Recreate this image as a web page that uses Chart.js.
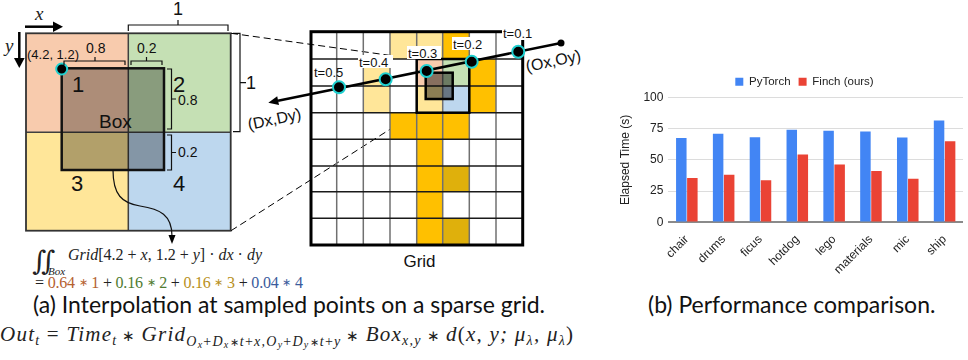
<!DOCTYPE html>
<html>
<head>
    <title>Interpolation and performance</title>
    <script src="https://cdn.jsdelivr.net/npm/chart.js"></script>
    <style>
        body { margin: 0; width: 968px; height: 360px; background: #fff; position: relative; overflow: hidden; }
        #fig { position: absolute; left: 0; top: 0; }
        #chartBox { position: absolute; left: 618px; top: 68px; width: 373px; height: 211px; }
        .lab { font-family: "Liberation Sans", Arial, sans-serif; fill: #111; }
        .math { font-family: "Liberation Serif", serif; fill: #222; white-space: pre; }
        .cap { font-family: Lato, "Noto Sans", sans-serif; fill: #111; white-space: pre; }
    </style>
</head>
<body>
<svg id="fig" width="968" height="360">
    <!-- left: box over four cells -->
    <rect x="26" y="33.3" width="102.3" height="99" fill="#F8CBAD"/>
    <rect x="128.3" y="33.3" width="102.4" height="99" fill="#C5E0B4"/>
    <rect x="26" y="132.3" width="102.3" height="98.4" fill="#FFE699"/>
    <rect x="128.3" y="132.3" width="102.4" height="98.4" fill="#BDD7EE"/>
    <path d="M128.3 33.3 V230.7 M26 132.3 H230.7" stroke="#404040" stroke-width="1.5" fill="none"/>
    <rect x="26" y="33.3" width="204.7" height="197.4" stroke="#333" stroke-width="1.8" fill="none"/>
    <rect x="61.7" y="68.3" width="102.3" height="101.7" fill="rgba(0,0,0,0.3)" stroke="#111" stroke-width="2.5"/>
    <text class="lab" x="72" y="92" font-size="22">1</text>
    <text class="lab" x="173" y="92" font-size="22">2</text>
    <text class="lab" x="71" y="191" font-size="22">3</text>
    <text class="lab" x="173" y="191" font-size="22">4</text>
    <text class="lab" x="99" y="128" font-size="19">Box</text>
    <circle cx="61.7" cy="69" r="5.5" fill="#000" stroke="#1fd0d0" stroke-width="2"/>
    <text class="lab" x="27" y="59" font-size="13">(4.2, 1.2)</text>

    <!-- axes arrows -->
    <text class="math" x="35" y="20" font-size="19" font-style="italic">x</text>
    <line x1="25" y1="26.7" x2="55" y2="26.7" stroke="#000" stroke-width="2.5"/>
    <polygon points="53,21.5 63,26.7 53,32" fill="#000"/>
    <text class="math" x="5" y="52" font-size="19" font-style="italic">y</text>
    <line x1="19.3" y1="32" x2="19.3" y2="60" stroke="#000" stroke-width="2.5"/>
    <polygon points="14,58 24.6,58 19.3,68" fill="#000"/>

    <!-- braces -->
    <g stroke="#111" stroke-width="1.2" fill="none">
        <path d="M64 65 V61 H125 V65 M95 61 V57"/>
        <path d="M131 65 V61 H162 V65 M146.5 61 V57"/>
        <path d="M128.3 31 V25 H228 V31 M178 25 V20"/>
        <path d="M233 33.3 H240 V131.7 H233 M240 82.7 H246"/>
        <path d="M167 69 H171.5 V129 H167 M171.5 99 H176"/>
        <path d="M167 135 H171.5 V170 H167 M171.5 152.5 H176"/>
    </g>
    <text class="lab" x="86" y="53" font-size="14">0.8</text>
    <text class="lab" x="137" y="53" font-size="14">0.2</text>
    <text class="lab" x="173" y="15" font-size="18">1</text>
    <text class="lab" x="246" y="89" font-size="18">1</text>
    <text class="lab" x="178" y="105" font-size="14">0.8</text>
    <text class="lab" x="178" y="157" font-size="14">0.2</text>

    <!-- curved arrow to the integral -->
    <path d="M113 170 C113 195, 122 203, 140 206 C160 209, 172 215, 172 236" stroke="#111" stroke-width="1.2" fill="none"/>
    <polygon points="168.5,235 175.5,235 172,244" fill="#000"/>

    <!-- zoom lines -->
    <path d="M231 33.3 L416 59 M231 230.7 L416 112.7" stroke="#000" stroke-width="1" stroke-dasharray="7 4" fill="none"/>

    <!-- sparse grid -->
    <g id="cells"></g>
    <rect x="416.7" y="59" width="26" height="26.9" fill="#F8CBAD"/>
    <rect x="442.7" y="59" width="26.6" height="26.9" fill="#C5E0B4"/>
    <rect x="416.7" y="85.9" width="26" height="26.8" fill="#FFE699"/>
    <rect x="442.7" y="85.9" width="26.6" height="26.8" fill="#BDD7EE"/>
    <g id="gridLines"></g>
    <rect x="311" y="31.7" width="211.7" height="213.3" stroke="#000" stroke-width="3" fill="none"/>
    <rect x="416.7" y="59" width="52.6" height="53.7" stroke="#000" stroke-width="2.5" fill="none"/>
    <rect x="425.7" y="72.7" width="27" height="26.3" fill="rgba(0,0,0,0.45)" stroke="#000" stroke-width="2.5"/>

    <!-- ray -->
    <line x1="561" y1="43" x2="278" y2="100.7" stroke="#000" stroke-width="2.5"/>
    <polygon points="268.3,102.7 279,105.1 277.2,96.3" fill="#000"/>
    <circle cx="561" cy="43" r="3.5" fill="#000"/>
    <g fill="#fff">
        <rect x="502" y="27" width="32" height="13"/>
        <rect x="452" y="37" width="34" height="13"/>
        <rect x="407" y="46" width="34" height="13"/>
        <rect x="358" y="55" width="35" height="13"/>
    </g>
    <text class="lab" x="503" y="38.3" font-size="13">t=0.1</text>
    <text class="lab" x="453" y="49" font-size="13">t=0.2</text>
    <text class="lab" x="408" y="58" font-size="13">t=0.3</text>
    <text class="lab" x="359" y="66.5" font-size="13">t=0.4</text>
    <text class="lab" x="314" y="76.5" font-size="13">t=0.5</text>
    <g fill="#000" stroke="#1fd0d0" stroke-width="2">
        <circle cx="518.3" cy="51.7" r="6"/>
        <circle cx="471.7" cy="61.7" r="6"/>
        <circle cx="426.7" cy="71" r="6"/>
        <circle cx="385.7" cy="79.3" r="6"/>
        <circle cx="339" cy="87.3" r="6"/>
    </g>
    <text class="lab" font-size="16" transform="translate(527,72) rotate(-12)">(Ox,Oy)</text>
    <text class="lab" font-size="16" transform="translate(249,130) rotate(-12)">(Dx,Dy)</text>
    <text class="lab" x="419.5" y="267" font-size="17" text-anchor="middle">Grid</text>

    <!-- formulas -->
    <text x="32" y="270" font-family="DejaVu Serif" font-size="27" fill="#222">&#x222C;</text>
    <text class="math" x="48" y="275" font-size="11" font-style="italic">Box</text>
    <text class="math" x="68" y="260" font-size="16"><tspan font-style="italic">Grid</tspan>[4.2 + <tspan font-style="italic">x</tspan>, 1.2 + <tspan font-style="italic">y</tspan>] · <tspan font-style="italic">dx</tspan> · <tspan font-style="italic">dy</tspan></text>
    <text class="math" x="35" y="288" font-size="16" textLength="268" lengthAdjust="spacing">= <tspan fill="#B5612F">0.64 <tspan font-size="11" dy="-2">∗</tspan><tspan dy="2"> 1</tspan></tspan> + <tspan fill="#4F7B30">0.16 <tspan font-size="11" dy="-2">∗</tspan><tspan dy="2"> 2</tspan></tspan> + <tspan fill="#B8901C">0.16 <tspan font-size="11" dy="-2">∗</tspan><tspan dy="2"> 3</tspan></tspan> + <tspan fill="#3A5B9C">0.04 <tspan font-size="11" dy="-2">∗</tspan><tspan dy="2"> 4</tspan></tspan></text>
    <text class="cap" x="33" y="313" font-size="23">(a) Interpolation at sampled points on a sparse grid.</text>
    <text class="cap" x="648" y="313" font-size="23">(b) Performance comparison.</text>
    <text class="math" x="0" y="341" font-size="21" font-style="italic" textLength="573" lengthAdjust="spacing">Out<tspan font-size="14" dy="4">t</tspan><tspan dy="-4" font-style="normal"> = </tspan>Time<tspan font-size="14" dy="4">t</tspan><tspan dy="-4" font-style="normal" font-size="15"> ∗ </tspan>Grid<tspan font-size="14" dy="5">O<tspan font-size="10" dy="2">x</tspan><tspan dy="-2" font-style="normal">+</tspan>D<tspan font-size="10" dy="2">x</tspan><tspan dy="-2" font-style="normal" font-size="11">∗</tspan>t<tspan font-style="normal">+</tspan>x,O<tspan font-size="10" dy="2">y</tspan><tspan dy="-2" font-style="normal">+</tspan>D<tspan font-size="10" dy="2">y</tspan><tspan dy="-2" font-style="normal" font-size="11">∗</tspan>t<tspan font-style="normal">+</tspan>y</tspan><tspan dy="-5" font-style="normal" font-size="15"> ∗ </tspan>Box<tspan font-size="14" dy="4">x,y</tspan><tspan dy="-4" font-style="normal" font-size="15"> ∗ </tspan>d<tspan font-style="normal">(</tspan>x, y; μ<tspan font-size="14" dy="4">λ</tspan><tspan dy="-4">, μ</tspan><tspan font-size="14" dy="4">λ</tspan><tspan dy="-4" font-style="normal">)</tspan></text>
</svg>

<div id="chartBox"><canvas id="perfChart" width="373" height="211"></canvas></div>

<script>
    // (b) elapsed time per scene
    const scenes = ['chair', 'drums', 'ficus', 'hotdog', 'lego', 'materials', 'mic', 'ship'];
    const pytorchTime = [67.6, 70.9, 68.2, 74.1, 73.3, 72.7, 67.9, 81.6];
    const finchTime = [35.6, 38.2, 33.7, 54.3, 46.3, 41.2, 35.0, 65.0];
    const yTickStep = 25;
    const yMax = 100;

    // sparse grid of (a): 8x8 cells, 0 empty, 1 light, 2 full, 3 dark
    const gridCols = [311, 336.7, 363.3, 390, 416.7, 442.7, 469.3, 496, 522.7];
    const gridRows = [31.7, 59, 86, 112.7, 139.3, 166, 191.7, 218.3, 245];
    const occupancy = [
        [0, 0, 0, 1, 1, 2, 0, 0],
        [0, 0, 1, 0, 0, 0, 2, 0],
        [0, 0, 1, 0, 0, 0, 2, 0],
        [0, 0, 0, 2, 2, 2, 0, 0],
        [0, 0, 0, 0, 2, 0, 0, 0],
        [0, 0, 0, 0, 2, 3, 0, 0],
        [0, 0, 0, 0, 2, 0, 0, 0],
        [0, 0, 0, 0, 2, 3, 0, 0]
    ];
    const cellColors = ['#fff', '#FFE699', '#FFC000', '#DFB00C'];

    const ns = 'http://www.w3.org/2000/svg';
    const cells = document.getElementById('cells');
    occupancy.forEach((row, r) => row.forEach((v, c) => {
        if (!v) return;
        const rect = document.createElementNS(ns, 'rect');
        rect.setAttribute('x', gridCols[c]);
        rect.setAttribute('y', gridRows[r]);
        rect.setAttribute('width', gridCols[c + 1] - gridCols[c]);
        rect.setAttribute('height', gridRows[r + 1] - gridRows[r]);
        rect.setAttribute('fill', cellColors[v]);
        cells.appendChild(rect);
    }));
    const lines = document.getElementById('gridLines');
    gridCols.slice(1, -1).forEach(x => {
        const l = document.createElementNS(ns, 'line');
        l.setAttribute('x1', x); l.setAttribute('x2', x);
        l.setAttribute('y1', gridRows[0]); l.setAttribute('y2', gridRows[8]);
        l.setAttribute('stroke', '#707070'); l.setAttribute('stroke-width', '1.5');
        lines.appendChild(l);
    });
    gridRows.slice(1, -1).forEach(y => {
        const l = document.createElementNS(ns, 'line');
        l.setAttribute('y1', y); l.setAttribute('y2', y);
        l.setAttribute('x1', gridCols[0]); l.setAttribute('x2', gridCols[8]);
        l.setAttribute('stroke', '#1a1a1a'); l.setAttribute('stroke-width', '1.5');
        lines.appendChild(l);
    });

    Chart.defaults.font.family = '"Liberation Sans", Arial, sans-serif';
    Chart.defaults.font.size = 12;
    Chart.defaults.color = '#222';

    // nudge the legend right so it sits over the middle of the whole panel
    const legendShift = {
        id: 'legendShift',
        afterLayout(chart) {
            chart.legend.left += 14;
            chart.legend.right += 14;
        }
    };

    const ctx = document.getElementById('perfChart').getContext('2d');
    new Chart(ctx, {
        type: 'bar',
        data: {
            labels: scenes,
            datasets: [{
                label: 'PyTorch',
                data: pytorchTime,
                backgroundColor: '#4285F4'
            }, {
                label: 'Finch (ours)',
                data: finchTime,
                backgroundColor: '#EA4335'
            }]
        },
        plugins: [legendShift],
        options: {
            responsive: false,
            animation: false,
            layout: { padding: { left: 0, right: 28, top: 0, bottom: 0 } },
            plugins: {
                legend: {
                    position: 'top',
                    labels: { boxWidth: 8, boxHeight: 8, padding: 8, font: { size: 11.5 } }
                },
                tooltip: { enabled: false }
            },
            datasets: {
                bar: { categoryPercentage: 0.6, barPercentage: 0.95 }
            },
            scales: {
                x: {
                    grid: { display: false },
                    border: { display: false },
                    ticks: { maxRotation: 45, minRotation: 45, autoSkip: false, padding: 2 }
                },
                y: {
                    min: 0,
                    max: yMax,
                    border: { display: false },
                    ticks: { stepSize: yTickStep, padding: 5 },
                    grid: {
                        drawTicks: false,
                        color: c => c.index === 0 ? '#8a8a8a' : '#dcdcdc',
                        lineWidth: c => c.index === 0 ? 2 : 1
                    },
                    title: { display: true, text: 'Elapsed Time (s)', padding: { top: 0, bottom: 6 } }
                }
            }
        }
    });
</script>
</body>
</html>
